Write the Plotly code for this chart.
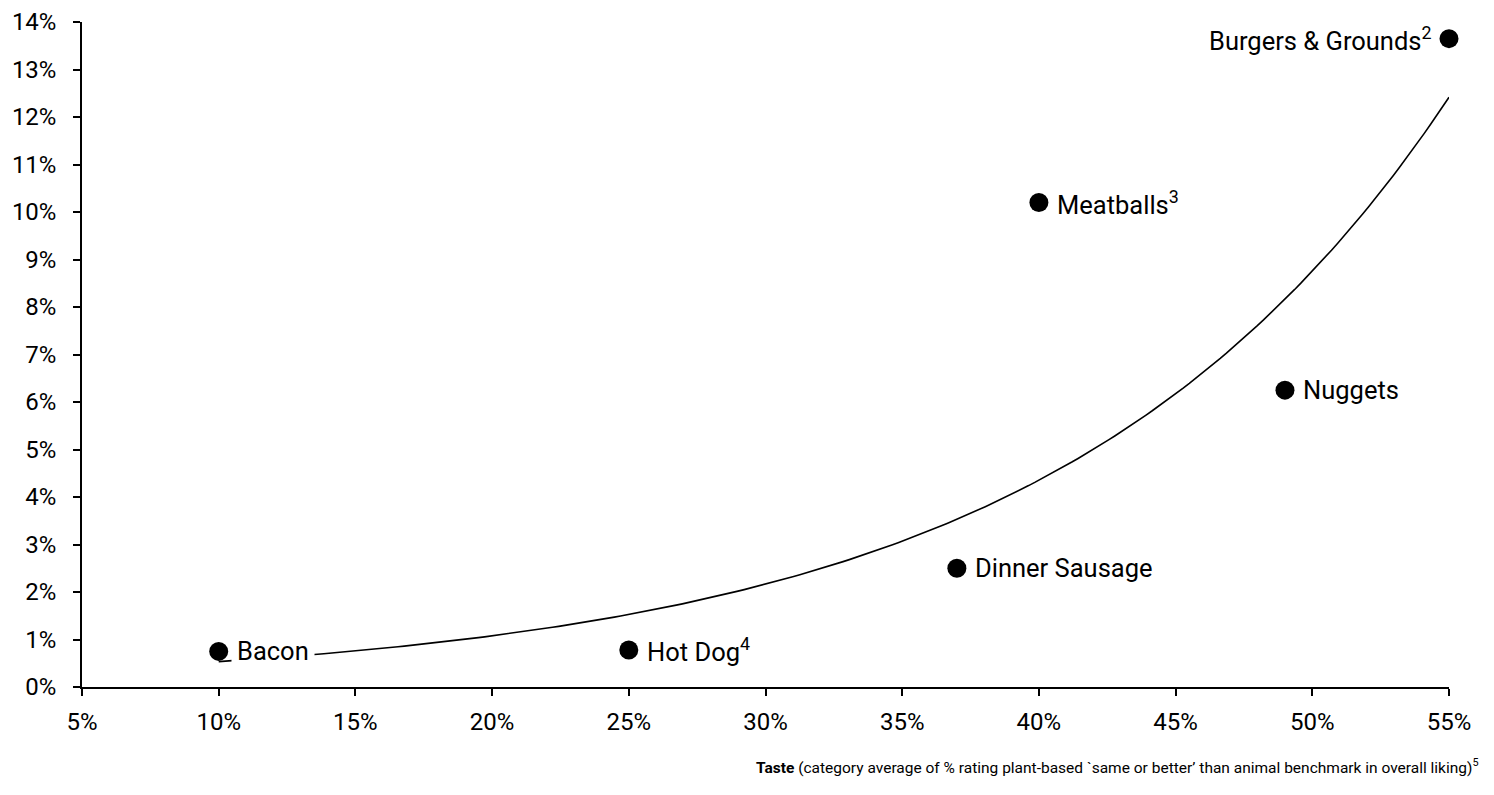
import numpy as np
import plotly.graph_objects as go

categories = ["Bacon", "Hot Dog<sup>4</sup>", "Dinner Sausage", "Meatballs<sup>3</sup>", "Nuggets", "Burgers & Grounds<sup>2</sup>"]
taste = [10, 25, 37, 40, 49, 55]
share = [0.75, 0.78, 2.5, 10.2, 6.25, 13.65]
x_ticks = [5, 10, 15, 20, 25, 30, 35, 40, 45, 50, 55]
y_ticks = list(range(0, 15))

FONT = "Roboto"

# exponential trendline fitted to the data (like a spreadsheet trendline)
b, ln_a = np.polyfit(np.array(taste, float), np.log(np.array(share, float)), 1)
tx = np.linspace(min(taste), max(taste), 200)
ty = np.exp(ln_a) * np.exp(b * tx)

fig = go.Figure()
fig.add_trace(go.Scatter(x=tx, y=ty, mode="lines", line=dict(color="black", width=1.6),
                         hoverinfo="skip", showlegend=False))
fig.add_trace(go.Scatter(x=taste, y=share, mode="markers",
                         marker=dict(color="black", size=19), hoverinfo="skip", showlegend=False))

for c, xv, yv in zip(categories, taste, share):
    left = c.startswith("Burgers")
    bacon = c == "Bacon"
    fig.add_annotation(x=xv, y=yv, text=c, showarrow=False,
                       xanchor="right" if left else "left",
                       xshift=-15 if left else (12 if bacon else 16), yanchor="middle",
                       font=dict(family=FONT, size=25.5, color="black"),
                       bgcolor="white" if bacon else "rgba(0,0,0,0)",
                       borderpad=5 if bacon else 1)

fig.add_annotation(xref="paper", yref="paper", x=1.0234, y=-0.119,
                   xanchor="right", yanchor="middle", showarrow=False,
                   text="<b>Taste</b> (category average of % rating plant-based `same or better’ than animal benchmark in overall liking)<sup>5</sup>",
                   font=dict(family=FONT, size=15.5, color="black"))

fig.update_xaxes(range=[5, 55], tickvals=x_ticks, ticktext=[f"{v}%" for v in x_ticks],
                 showgrid=False, zeroline=False, showline=True, linecolor="black", linewidth=1.5,
                 ticks="outside", ticklen=7, tickcolor="black", tickwidth=1.5,
                 ticklabelstandoff=5, automargin=False, ticklabeloverflow="allow",
                 tickfont=dict(family=FONT, size=24, color="black"))
fig.update_yaxes(range=[0, 14], tickvals=y_ticks, ticktext=[f"{v}%" for v in y_ticks],
                 showgrid=False, zeroline=False, showline=True, linecolor="black", linewidth=1.5,
                 ticks="outside", ticklen=7, tickcolor="black", tickwidth=1.5,
                 ticklabelstandoff=12, automargin=False, ticklabeloverflow="allow",
                 tickfont=dict(family=FONT, size=24, color="black"))

fig.update_layout(width=1478, height=779, plot_bgcolor="white", paper_bgcolor="white",
                  margin=dict(l=74, r=37, t=14, b=100), font=dict(family=FONT))
fig.update_traces(cliponaxis=False)

fig.write_html("out.html")
